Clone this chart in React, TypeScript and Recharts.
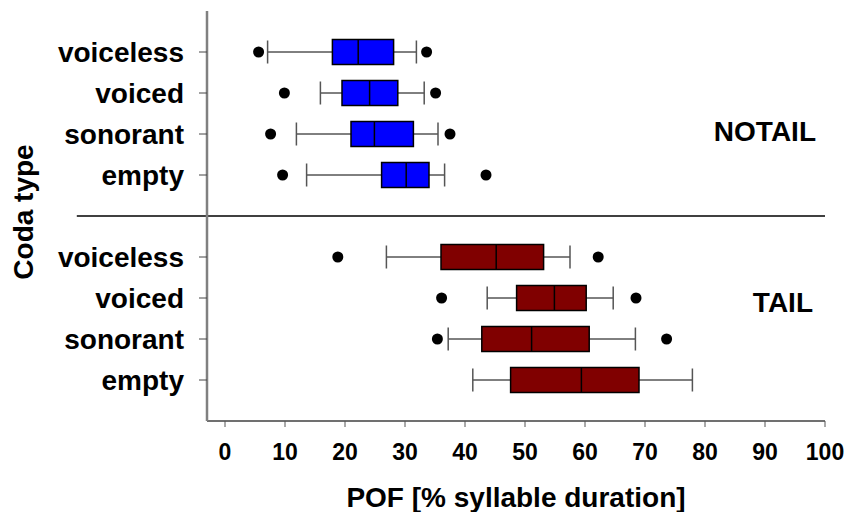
import {
  ComposedChart,
  Bar,
  Scatter,
  XAxis,
  YAxis,
  ReferenceLine,
  ReferenceDot,
} from "recharts";

const categories = ["voiceless", "voiced", "sonorant", "empty"];
const notailPos = [1, 2, 3, 4];
const tailPos = [6, 7, 8, 9];

const notailLow = [7.1, 15.9, 11.9, 13.6];
const notailQ1 = [17.9, 19.5, 21.0, 26.1];
const notailMed = [22.2, 24.1, 24.9, 30.2];
const notailQ3 = [28.1, 28.8, 31.4, 34.0];
const notailHigh = [31.9, 33.2, 35.5, 36.6];
const notailOutLow = [5.6, 9.9, 7.6, 9.6];
const notailOutHigh = [33.6, 35.1, 37.5, 43.5];

const tailLow = [26.9, 43.7, 37.2, 41.3];
const tailQ1 = [36.0, 48.6, 42.8, 47.6];
const tailMed = [45.2, 54.9, 51.1, 59.4];
const tailQ3 = [53.1, 60.2, 60.7, 69.0];
const tailHigh = [57.5, 64.7, 68.4, 77.9];
const tailOutLow = [18.8, 36.1, 35.4, null];
const tailOutHigh = [62.2, 68.5, 73.6, null];

const xTicks = [0, 10, 20, 30, 40, 50, 60, 70, 80, 90, 100];
const yTicks = [...notailPos, ...tailPos];

const FONT = "'Liberation Sans', Arial, sans-serif";
const BLUE = "#0000ff";
const RED = "#800000";

const boxes = [
  ...categories.map((c, i) => ({
    name: c,
    pos: notailPos[i],
    lo: notailLow[i],
    q1: notailQ1[i],
    med: notailMed[i],
    q3: notailQ3[i],
    hi: notailHigh[i],
    color: BLUE,
  })),
  ...categories.map((c, i) => ({
    name: c,
    pos: tailPos[i],
    lo: tailLow[i],
    q1: tailQ1[i],
    med: tailMed[i],
    q3: tailQ3[i],
    hi: tailHigh[i],
    color: RED,
  })),
];

const outliers = [
  ...notailPos.flatMap((p, i) => [
    { v: notailOutLow[i], pos: p },
    { v: notailOutHigh[i], pos: p },
  ]),
  ...tailPos.flatMap((p, i) => [
    { v: tailOutLow[i], pos: p },
    { v: tailOutHigh[i], pos: p },
  ]),
].filter((d) => d.v != null);

const labelFor = (v: number) => {
  const i = notailPos.indexOf(v);
  if (i >= 0) return categories[i];
  const j = tailPos.indexOf(v);
  return j >= 0 ? categories[j] : "";
};

// draws the whole box plot from the pixel span of [lo, hi]
function BoxShape(props: any) {
  const { x, y, width, height, payload } = props;
  if (x == null || !payload) return null;
  const { lo, hi, q1, med, q3, color } = payload;
  const px = (v: number) => x + ((v - lo) / (hi - lo)) * width;
  const cy = y + height / 2;
  return (
    <g>
      <line x1={x} x2={px(q1)} y1={cy} y2={cy} stroke="#000" strokeWidth={1} />
      <line x1={px(q3)} x2={x + width} y1={cy} y2={cy} stroke="#000" strokeWidth={1} />
      <line x1={x} x2={x} y1={y + 1} y2={y + height - 1} stroke="#555" strokeWidth={1.5} />
      <line
        x1={x + width}
        x2={x + width}
        y1={y + 1}
        y2={y + height - 1}
        stroke="#555"
        strokeWidth={1.5}
      />
      <rect
        x={px(q1)}
        y={y}
        width={px(q3) - px(q1)}
        height={height}
        fill={color}
        stroke="#000"
        strokeWidth={1.5}
      />
      <line x1={px(med)} x2={px(med)} y1={y} y2={y + height} stroke="#000" strokeWidth={1.5} />
    </g>
  );
}

const sideLabel = (text: string) => (p: any) => (
  <text
    x={p.viewBox.x + p.viewBox.width / 2}
    y={p.viewBox.y + p.viewBox.height / 2}
    dy="0.36em"
    textAnchor="end"
    fontFamily={FONT}
    fontSize={28}
    fontWeight="bold"
    fill="#000"
  >
    {text}
  </text>
);

export default function App() {
  return (
    <div style={{ position: "absolute", left: 0, top: 0, background: "#fff" }}>
      <ComposedChart
        width={848}
        height={512}
        layout="vertical"
        data={boxes}
        margin={{ top: 11, right: 23, bottom: 0, left: 0 }}
      >
        <XAxis
          type="number"
          dataKey="v"
          domain={[-3, 100]}
          allowDataOverflow
          ticks={xTicks}
          interval={0}
          height={91}
          tickSize={6}
          tickMargin={17}
          axisLine={{ stroke: "#404040", strokeWidth: 1.5 }}
          tickLine={{ stroke: "#555" }}
          tick={{ fontFamily: FONT, fontSize: 23, fontWeight: "bold", fill: "#000" }}
          label={{
            content: (p: any) => (
              <text
                x={p.viewBox.x + p.viewBox.width / 2}
                y={p.viewBox.y + 86}
                textAnchor="middle"
                fontFamily={FONT}
                fontSize={28}
                fontWeight="bold"
                fill="#000"
              >
                POF [% syllable duration]
              </text>
            ),
          }}
        />
        <XAxis
          xAxisId="top"
          orientation="top"
          type="number"
          domain={[-3, 100]}
          height={0}
          tick={false}
          tickLine={false}
          axisLine={{ stroke: "#000", strokeWidth: 1.5 }}
        />
        <YAxis
          type="number"
          dataKey="pos"
          domain={[0, 10]}
          ticks={yTicks}
          interval={0}
          width={207}
          tickSize={8}
          tickMargin={15}
          tickFormatter={labelFor}
          axisLine={{ stroke: "#808080", strokeWidth: 2.5 }}
          tickLine={{ stroke: "#444" }}
          tick={{ fontFamily: FONT, fontSize: 28, fontWeight: "bold", fill: "#000" }}
          label={{
            content: (p: any) => {
              const cx = p.viewBox.x + 33;
              const cy = p.viewBox.y + p.viewBox.height / 2 - 4;
              return (
                <text
                  x={cx}
                  y={cy}
                  transform={`rotate(-90 ${cx} ${cy})`}
                  textAnchor="middle"
                  fontFamily={FONT}
                  fontSize={28}
                  fontWeight="bold"
                  fill="#000"
                >
                  Coda type
                </text>
              );
            },
          }}
        />
        <YAxis
          yAxisId="right"
          orientation="right"
          type="number"
          domain={[0, 10]}
          width={0}
          tick={false}
          tickLine={false}
          axisLine={{ stroke: "#808080", strokeWidth: 1.5 }}
        />
        <ReferenceLine
          segment={[
            { x: -24.7, y: 5 },
            { x: 100, y: 5 },
          ]}
          ifOverflow="visible"
          stroke="#000"
          strokeWidth={1.5}
        />
        <Bar
          dataKey={(d: any) => [d.lo, d.hi]}
          barSize={25}
          shape={BoxShape}
          isAnimationActive={false}
        />
        <Scatter
          data={outliers}
          fill="#000"
          shape={(p: any) => <circle cx={p.cx} cy={p.cy} r={5.5} fill="#000" />}
          isAnimationActive={false}
        />
        <ReferenceDot
          x={98.5}
          y={2.93}
          r={1}
          fill="none"
          stroke="none"
          ifOverflow="visible"
          label={{ content: sideLabel("NOTAIL") }}
        />
        <ReferenceDot
          x={98}
          y={7.1}
          r={1}
          fill="none"
          stroke="none"
          ifOverflow="visible"
          label={{ content: sideLabel("TAIL") }}
        />
      </ComposedChart>
    </div>
  );
}
